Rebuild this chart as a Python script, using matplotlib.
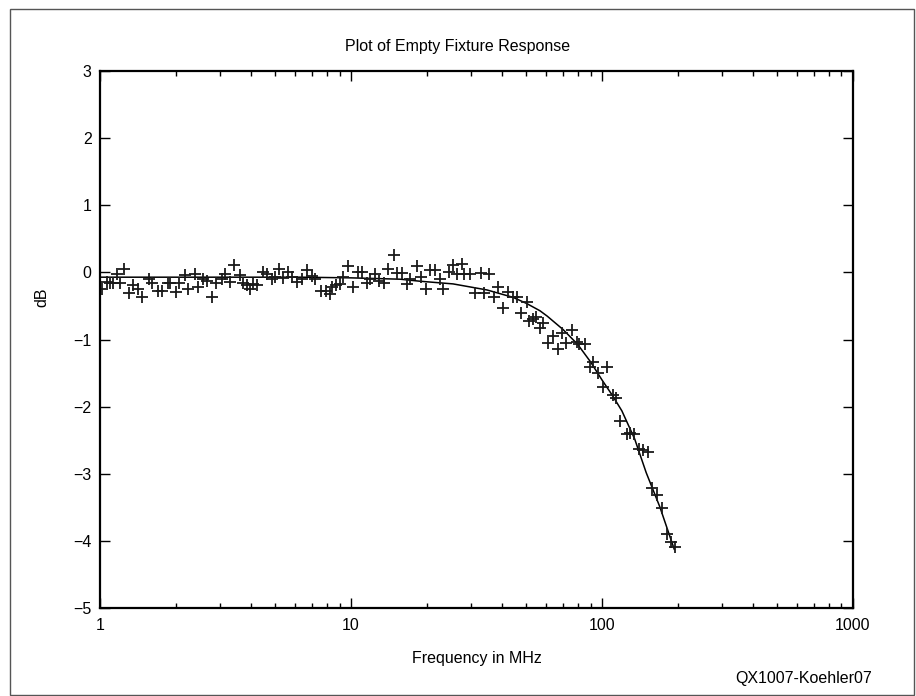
import matplotlib.pyplot as plt
from matplotlib.patches import Rectangle
from matplotlib.ticker import NullFormatter

plt.rcParams['font.family'] = ['Liberation Sans', 'DejaVu Sans']
plt.rcParams['font.size'] = 11.5

# measured points (frequency in MHz, response in dB)
freq = [1.016, 1.063, 1.096, 1.130, 1.166, 1.201, 1.250, 1.308, 1.357, 1.421,
        1.466, 1.572, 1.607, 1.698, 1.762, 1.861, 1.900, 2.008, 2.070, 2.182,
        2.236, 2.390, 2.464, 2.579, 2.661, 2.786, 2.899, 3.054, 3.148, 3.295,
        3.428, 3.613, 3.724, 3.842, 3.960, 4.081, 4.210, 4.448, 4.614, 4.831,
        4.980, 5.180, 5.374, 5.626, 5.803, 6.076, 6.361, 6.660, 6.973, 7.188,
        7.595, 7.951, 8.249, 8.379, 8.714, 9.042, 9.319, 9.755, 10.16, 10.69,
        11.03, 11.55, 11.90, 12.46, 12.97, 13.57, 14.08, 14.88, 15.21, 15.92,
        16.67, 17.18, 18.27, 19.00, 19.90, 20.64, 21.61, 22.62, 23.32, 24.64,
        25.56, 26.37, 27.61, 28.20, 29.88, 31.19, 32.95, 33.72, 35.40, 36.96,
        38.63, 40.45, 42.23, 44.01, 45.65, 47.57, 50.03, 51.34, 52.96, 54.73,
        56.62, 58.36, 61.11, 63.62, 66.97, 69.09, 71.88, 75.72, 79.27, 81.19,
        85.55, 89.57, 92.50, 96.40, 100.9, 104.4, 110.3, 113.7, 117.9, 125.4,
        129.3, 134.1, 140.8, 146.0, 152.9, 157.8, 166.1, 172.9, 182.0, 187.8,
        195.4]
db = [-0.24, -0.14, -0.15, -0.15, -0.03, -0.15, 0.05, -0.31, -0.19, -0.25,
      -0.37, -0.10, -0.15, -0.27, -0.27, -0.15, -0.15, -0.29, -0.15, -0.04,
      -0.24, -0.02, -0.22, -0.10, -0.12, -0.37, -0.15, -0.09, -0.02, -0.14,
      0.11, -0.04, -0.15, -0.19, -0.24, -0.17, -0.19, 0.01, -0.02, -0.10,
      -0.07, 0.05, -0.08, 0.00, -0.07, -0.14, -0.10, 0.03, -0.05, -0.10,
      -0.27, -0.27, -0.32, -0.22, -0.19, -0.17, -0.06, 0.09, -0.22, 0.01,
      0.01, -0.15, -0.10, -0.02, -0.12, -0.15, 0.05, 0.26, -0.01, -0.01,
      -0.17, -0.09, 0.10, -0.07, -0.24, 0.03, 0.03, -0.10, -0.24, 0.01,
      0.11, -0.02, 0.13, -0.02, -0.03, -0.31, -0.01, -0.31, -0.03, -0.37,
      -0.21, -0.53, -0.29, -0.37, -0.37, -0.60, -0.44, -0.72, -0.70, -0.66,
      -0.83, -0.75, -1.05, -0.95, -1.14, -0.90, -1.05, -0.86, -1.03, -1.07,
      -1.07, -1.40, -1.33, -1.49, -1.71, -1.41, -1.82, -1.87, -2.21, -2.41,
      -2.39, -2.41, -2.63, -2.65, -2.67, -3.21, -3.31, -3.50, -3.89, -4.02,
      -4.08]

# fitted response curve
fit_freq = [1.0, 2.5, 6.3, 10, 15.7, 18.8, 25.5, 34.8, 44.2, 50, 56.6, 60.5,
            70, 80, 90, 100, 110, 120, 135, 150, 170, 194]
fit_db = [-0.07, -0.07, -0.07, -0.08, -0.10, -0.13, -0.17, -0.26, -0.37,
          -0.46, -0.57, -0.65, -0.85, -1.07, -1.33, -1.60, -1.83, -2.06,
          -2.48, -2.98, -3.49, -4.12]

fig = plt.figure(figsize=(9.16, 6.96), dpi=100)
ax = fig.add_axes([0.1092, 0.126, 0.822, 0.772])

ax.plot(fit_freq, fit_db, color='black', linewidth=1.1)
ax.plot(freq, db, linestyle='none', marker='+', markersize=8,
        markeredgewidth=1.3, color='#1a1a1a')

ax.set_xscale('log')
ax.set_xlim(1, 1000)
ax.set_ylim(-5, 3)
ax.set_xticks([1, 10, 100, 1000])
ax.set_xticklabels(['1', '10', '100', '1000'])
ax.xaxis.set_minor_formatter(NullFormatter())
ax.set_yticks(range(-5, 4))

for s in ax.spines.values():
    s.set_linewidth(1.6)
ax.tick_params(which='both', direction='in', top=True, right=True, width=1)
ax.tick_params(which='major', length=7, pad=7)
ax.tick_params(which='minor', length=3.5)
ax.tick_params(axis='y', pad=6)

ax.set_xlabel('Frequency in MHz')
ax.xaxis.set_label_coords(0.5, -0.0925)
ax.xaxis.label.set_va('center')
ax.set_ylabel('dB')
ax.yaxis.set_label_coords(-0.0774, 0.579)
ax.yaxis.label.set_va('center')

fig.text(458 / 916, 1 - 46 / 696, 'Plot of Empty Fixture Response',
         ha='center', va='center')
fig.text(872 / 916, 1 - 678 / 696, 'QX1007-Koehler07', ha='right', va='center')

# outer frame
fig.patches.append(Rectangle((10 / 916, 1 / 696), 904 / 916, 686 / 696,
                             transform=fig.transFigure, fill=False,
                             edgecolor='#555555', linewidth=1))

fig.savefig('out.png', dpi=100)
